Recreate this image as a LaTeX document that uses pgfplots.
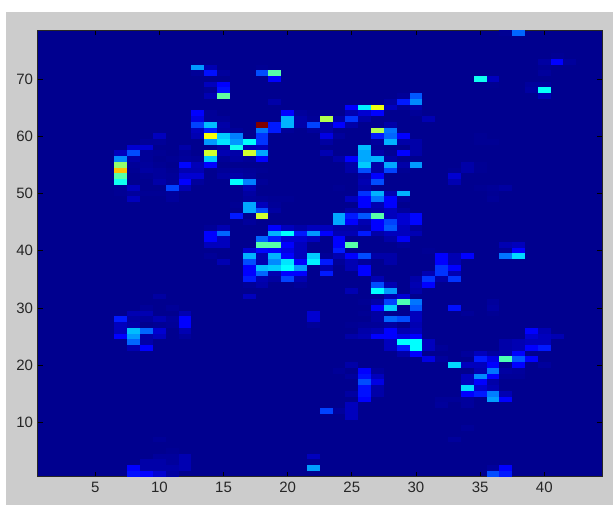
\documentclass[border=0pt]{standalone}
\usepackage{fontspec}
\setmainfont{Liberation Sans}
\usepackage{pgfplots}
\pgfplotsset{compat=1.18}
\definecolor{navy}{rgb}{0,0,.5625}
\definecolor{figgrey}{rgb}{.8,.8,.8}
\pgfdeclareplotmark{cell}{\pgfpathrectangle{\pgfpoint{-6.45pt}{-2.9pt}}{\pgfpoint{12.9pt}{5.8pt}}\pgfusepathqfill}
\begin{document}
\begin{tikzpicture}[x=1pt,y=1pt]
\fill[white] (0,0) rectangle (613,506);
\fill[figgrey] (6,1) rectangle (613,494);
\begin{axis}[
  at={(37.5pt,29.3pt)}, anchor=south west, scale only axis,
  width=564.5pt, height=446.4pt,
  xmin=0.5, xmax=44.5, ymin=0.5, ymax=78.5,
  xtick={5,10,...,40}, ytick={10,20,...,70},
  tick align=inside, major tick length=5pt,
  tick style={black, line width=0.7pt},
  axis line style={black!85, line width=0.9pt},
  axis on top,
  axis background/.style={fill=navy},
  tick label style={font=\fontsize{15}{17}\selectfont, text=black!85},
  /pgf/number format/assume math mode=true,
  xticklabel style={yshift=-2pt},
  yticklabel style={xshift=-1pt},
  colormap={mjet}{rgb(0cm)=(0,0,.5625) rgb(.24cm)=(0,0,.58) rgb(.4cm)=(0,0,.61) rgb(.56cm)=(0,0,.66) rgb(.72cm)=(0,0,.74) rgb(.8cm)=(0,0,.82) rgb(1cm)=(0,0,1) rgb(3cm)=(0,1,1) rgb(5cm)=(1,1,0) rgb(7cm)=(1,0,0) rgb(8cm)=(.5,0,0)},
  colormap name=mjet,
  point meta min=0, point meta max=1,
]
\addplot[scatter, only marks, mark=cell, point meta=explicit,
  scatter/use mapped color={draw=none, fill=mapped color}] coordinates {
(37,78)[.03] (38,78)[.225]
(41,74)[.03]
(40,73)[.06] (41,73)[.125] (42,73)[.05]
(13,72)[.275] (14,72)[.08] (18,72)[.03] (40,72)[.03]
(13,71)[.04] (14,71)[.14] (15,71)[.05] (18,71)[.2] (19,71)[.46] (40,71)[.05]
(19,70)[.125] (35,70)[.39] (36,70)[.09]
(14,69)[.09] (15,69)[.125] (36,69)[.02] (39,69)[.05] (40,69)[.05]
(14,68)[.04] (15,68)[.14] (39,68)[.06] (40,68)[.38]
(14,67)[.08] (15,67)[.47] (29,67)[.04] (30,67)[.21] (40,67)[.08]
(19,66)[.07] (28,66)[.06] (29,66)[.15] (30,66)[.26]
(25,65)[.125] (26,65)[.36] (27,65)[.61] (28,65)[.09] (29,65)[.04] (30,65)[.07]
(13,64)[.125] (14,64)[.04] (20,64)[.125] (21,64)[.05] (22,64)[.03] (25,64)[.08] (26,64)[.1] (27,64)[.125] (30,64)[.04]
(13,63)[.11] (14,63)[.04] (15,63)[.04] (20,63)[.3] (21,63)[.07] (22,63)[.04] (23,63)[.55] (24,63)[.07] (25,63)[.175] (26,63)[.07] (31,63)[.08]
(13,62)[.19] (14,62)[.31] (15,62)[.07] (18,62)[1] (19,62)[.15] (20,62)[.3] (21,62)[.07] (22,62)[.19] (23,62)[.07] (24,62)[.125] (25,62)[.07] (28,62)[.07]
(13,61)[.09] (14,61)[.15] (15,61)[.06] (16,61)[.04] (18,61)[.24] (19,61)[.15] (20,61)[.04] (22,61)[.05] (23,61)[.07] (27,61)[.55] (28,61)[.24]
(10,60)[.09] (13,60)[.08] (14,60)[.62] (15,60)[.325] (16,60)[.25] (18,60)[.175] (23,60)[.11] (24,60)[.05] (27,60)[.15] (28,60)[.225] (29,60)[.125] (35,60)[.03]
(9,59)[.04] (10,59)[.04] (14,59)[.275] (15,59)[.35] (16,59)[.275] (17,59)[.375] (18,59)[.175] (23,59)[.06] (27,59)[.05] (28,59)[.3] (29,59)[.07] (30,59)[.07] (35,59)[.03] (36,59)[.03]
(8,58)[.1] (9,58)[.1] (12,58)[.07] (15,58)[.06] (16,58)[.39] (17,58)[.08] (18,58)[.09] (26,58)[.31] (27,58)[.03] (30,58)[.07]
(7,57)[.09] (8,57)[.2] (9,57)[.04] (10,57)[.03] (12,57)[.04] (14,57)[.58] (15,57)[.08] (16,57)[.07] (17,57)[.58] (18,57)[.29] (23,57)[.08] (26,57)[.29] (27,57)[.07] (28,57)[.03] (29,57)[.125] (30,57)[.07]
(7,56)[.26] (8,56)[.07] (9,56)[.04] (11,56)[.03] (12,56)[.05] (13,56)[.04] (14,56)[.325] (15,56)[.04] (16,56)[.06] (17,56)[.04] (18,56)[.125] (24,56)[.07] (25,56)[.125] (26,56)[.29] (27,56)[.3] (28,56)[.06]
(7,55)[.52] (8,55)[.04] (9,55)[.05] (10,55)[.03] (12,55)[.13] (13,55)[.085] (14,55)[.125] (25,55)[.07] (26,55)[.325] (27,55)[.07] (28,55)[.29] (29,55)[.07] (30,55)[.275] (34,55)[.07] (35,55)[.03]
(7,54)[.6875] (8,54)[.03] (9,54)[.06] (10,54)[.05] (11,54)[.03] (12,54)[.08] (13,54)[.08] (15,54)[.04] (16,54)[.05] (17,54)[.04] (18,54)[.03] (25,54)[.07] (26,54)[.2] (27,54)[.07] (28,54)[.19] (29,54)[.03] (33,54)[.03] (34,54)[.07] (35,54)[.03]
(7,53)[.46] (9,53)[.03] (10,53)[.05] (11,53)[.04] (12,53)[.1] (13,53)[.1] (15,53)[.06] (16,53)[.07] (17,53)[.05] (26,53)[.07] (27,53)[.125] (33,53)[.1]
(7,52)[.39] (10,52)[.07] (11,52)[.04] (12,52)[.125] (13,52)[.05] (16,52)[.375] (17,52)[.25] (18,52)[.04] (26,52)[.08] (27,52)[.2] (33,52)[.08]
(7,51)[.03] (8,51)[.09] (11,51)[.19] (12,51)[.08] (17,51)[.08] (24,51)[.03] (26,51)[.07] (35,51)[.03] (36,51)[.04] (37,51)[.06]
(7,50)[.03] (8,50)[.05] (9,50)[.03] (10,50)[.03] (11,50)[.05] (17,50)[.06] (26,50)[.175] (27,50)[.3] (28,50)[.08] (29,50)[.3] (36,50)[.03]
(8,49)[.09] (11,49)[.05] (17,49)[.05] (18,49)[.04] (19,49)[.03] (20,49)[.03] (25,49)[.09] (26,49)[.125] (27,49)[.24] (28,49)[.125] (29,49)[.05] (36,49)[.04]
(16,48)[.03] (17,48)[.29] (18,48)[.09] (19,48)[.04] (26,48)[.125] (27,48)[.08] (28,48)[.125]
(17,47)[.29] (18,47)[.2] (19,47)[.06] (25,47)[.07] (26,47)[.06] (27,47)[.07] (28,47)[.09] (29,47)[.05]
(16,46)[.15] (18,46)[.58] (24,46)[.29] (25,46)[.15] (26,46)[.21] (27,46)[.46] (28,46)[.09] (29,46)[.1] (30,46)[.13]
(17,45)[.05] (24,45)[.29] (25,45)[.125] (26,45)[.08] (27,45)[.125] (28,45)[.19] (29,45)[.1] (30,45)[.13]
(14,44)[.04] (15,44)[.08] (19,44)[.125] (20,44)[.09] (21,44)[.07] (22,44)[.09] (23,44)[.09] (24,44)[.07] (25,44)[.07] (26,44)[.06] (27,44)[.125] (28,44)[.21] (29,44)[.09] (30,44)[.05]
(14,43)[.125] (15,43)[.225] (19,43)[.3] (20,43)[.375] (21,43)[.15] (22,43)[.275] (23,43)[.125] (24,43)[.08] (25,43)[.08] (26,43)[.15] (27,43)[.07] (28,43)[.09] (29,43)[.09] (30,43)[.08]
(14,42)[.125] (15,42)[.09] (18,42)[.225] (19,42)[.15] (20,42)[.1] (21,42)[.1] (22,42)[.09] (24,42)[.125] (28,42)[.07] (29,42)[.12]
(14,41)[.09] (15,41)[.09] (18,41)[.46] (19,41)[.46] (20,41)[.125] (21,41)[.09] (24,41)[.125] (25,41)[.46] (29,41)[.04] (37,41)[.08] (38,41)[.09]
(17,40)[.1] (18,40)[.13] (19,40)[.125] (20,40)[.11] (21,40)[.09] (24,40)[.15] (31,40)[.03] (37,40)[.04] (38,40)[.125]
(14,39)[.04] (17,39)[.3] (18,39)[.08] (19,39)[.3] (20,39)[.125] (21,39)[.09] (22,39)[.325] (23,39)[.04] (24,39)[.08] (25,39)[.125] (26,39)[.2] (27,39)[.07] (28,39)[.07] (32,39)[.125] (33,39)[.08] (34,39)[.125] (37,39)[.24] (38,39)[.34]
(15,38)[.08] (17,38)[.2] (18,38)[.08] (19,38)[.26] (20,38)[.35] (21,38)[.125] (22,38)[.36] (23,38)[.15] (24,38)[.04] (25,38)[.08] (26,38)[.05] (28,38)[.07] (32,38)[.125] (33,38)[.08]
(17,37)[.125] (18,37)[.31] (19,37)[.325] (20,37)[.375] (21,37)[.275] (23,37)[.08] (25,37)[.08] (26,37)[.125] (32,37)[.175] (33,37)[.125]
(17,36)[.125] (18,36)[.225] (19,36)[.08] (20,36)[.125] (21,36)[.125] (23,36)[.15] (26,36)[.125] (31,36)[.08] (32,36)[.175] (33,36)[.08]
(17,35)[.15] (18,35)[.08] (19,35)[.06] (20,35)[.19] (21,35)[.08] (27,35)[.08] (30,35)[.07] (31,35)[.175] (32,35)[.07] (33,35)[.175]
(17,34)[.04] (18,34)[.07] (21,34)[.04] (27,34)[.2] (28,34)[.08] (30,34)[.08] (31,34)[.125]
(25,33)[.08] (27,33)[.375] (28,33)[.275] (30,33)[.07]
(10,32)[.06] (17,32)[.09] (28,32)[.08] (29,32)[.1]
(26,31)[.03] (27,31)[.07] (28,31)[.19] (29,31)[.45] (30,31)[.24] (36,31)[.05]
(9,30)[.04] (11,30)[.04] (27,30)[.125] (28,30)[.325] (30,30)[.21] (33,30)[.14] (36,30)[.06]
(8,29)[.08] (9,29)[.08] (12,29)[.08] (22,29)[.1] (26,29)[.03] (27,29)[.06] (30,29)[.09] (34,29)[.04] (36,29)[.03]
(7,28)[.15] (8,28)[.06] (9,28)[.05] (10,28)[.08] (11,28)[.05] (12,28)[.125] (22,28)[.1] (27,28)[.06] (28,28)[.225] (29,28)[.2] (30,28)[.09]
(7,27)[.09] (8,27)[.07] (10,27)[.03] (11,27)[.04] (12,27)[.125] (22,27)[.04] (25,27)[.03] (26,27)[.04] (27,27)[.04] (28,27)[.06] (30,27)[.08]
(7,26)[.09] (8,26)[.31] (9,26)[.225] (10,26)[.1] (12,26)[.08] (26,26)[.07] (27,26)[.08] (28,26)[.125] (29,26)[.08] (30,26)[.09] (39,26)[.125] (40,26)[.08]
(7,25)[.125] (8,25)[.275] (9,25)[.07] (10,25)[.09] (12,25)[.05] (25,25)[.07] (26,25)[.08] (27,25)[.125] (28,25)[.125] (29,25)[.11] (30,25)[.125] (39,25)[.1] (40,25)[.09] (41,25)[.08]
(8,24)[.225] (9,24)[.07] (28,24)[.09] (29,24)[.375] (30,24)[.375] (31,24)[.09] (37,24)[.07] (38,24)[.08] (39,24)[.09] (40,24)[.09]
(8,23)[.08] (9,23)[.125] (28,23)[.09] (29,23)[.15] (30,23)[.375] (31,23)[.09] (32,23)[.04] (37,23)[.07] (38,23)[.08] (39,23)[.125] (40,23)[.15]
(29,22)[.07] (30,22)[.125] (34,22)[.05] (35,22)[.09] (36,22)[.06] (37,22)[.07] (38,22)[.125]
(31,21)[.11] (32,21)[.05] (35,21)[.15] (36,21)[.11] (37,21)[.45] (38,21)[.21] (39,21)[.125]
(25,20)[.07] (33,20)[.34] (34,20)[.09] (35,20)[.09] (36,20)[.125] (38,20)[.125] (40,20)[.05]
(24,19)[.04] (26,19)[.125] (27,19)[.05] (35,19)[.08] (36,19)[.24] (37,19)[.06] (38,19)[.05]
(25,18)[.05] (26,18)[.14] (27,18)[.09] (34,18)[.09] (35,18)[.26] (36,18)[.125] (37,18)[.04] (38,18)[.04]
(26,17)[.2] (27,17)[.11] (34,17)[.09] (35,17)[.125] (36,17)[.07]
(26,16)[.14] (27,16)[.07] (34,16)[.34] (35,16)[.1] (36,16)[.08]
(25,15)[.06] (26,15)[.14] (27,15)[.07] (34,15)[.125] (35,15)[.15] (36,15)[.25] (37,15)[.08]
(26,14)[.125] (32,14)[.04] (33,14)[.04] (34,14)[.05] (36,14)[.28] (37,14)[.125]
(25,13)[.09] (32,13)[.05] (34,13)[.05]
(23,12)[.19] (24,12)[.05] (25,12)[.09]
(25,11)[.09]
(34,9)[.04]
(10,7)[.04] (33,7)[.05]
(11,5)[.03]
(10,4)[.05] (11,4)[.05] (12,4)[.08] (22,4)[.09]
(9,3)[.07] (10,3)[.07] (11,3)[.05] (12,3)[.08] (22,3)[.03]
(8,2)[.125] (9,2)[.07] (10,2)[.07] (11,2)[.07] (12,2)[.08] (22,2)[.28] (36,2)[.05] (37,2)[.125]
(8,1)[.14] (9,1)[.125] (10,1)[.1] (11,1)[.06] (36,1)[.2] (37,1)[.15]
};
\end{axis}
\end{tikzpicture}
\end{document}
